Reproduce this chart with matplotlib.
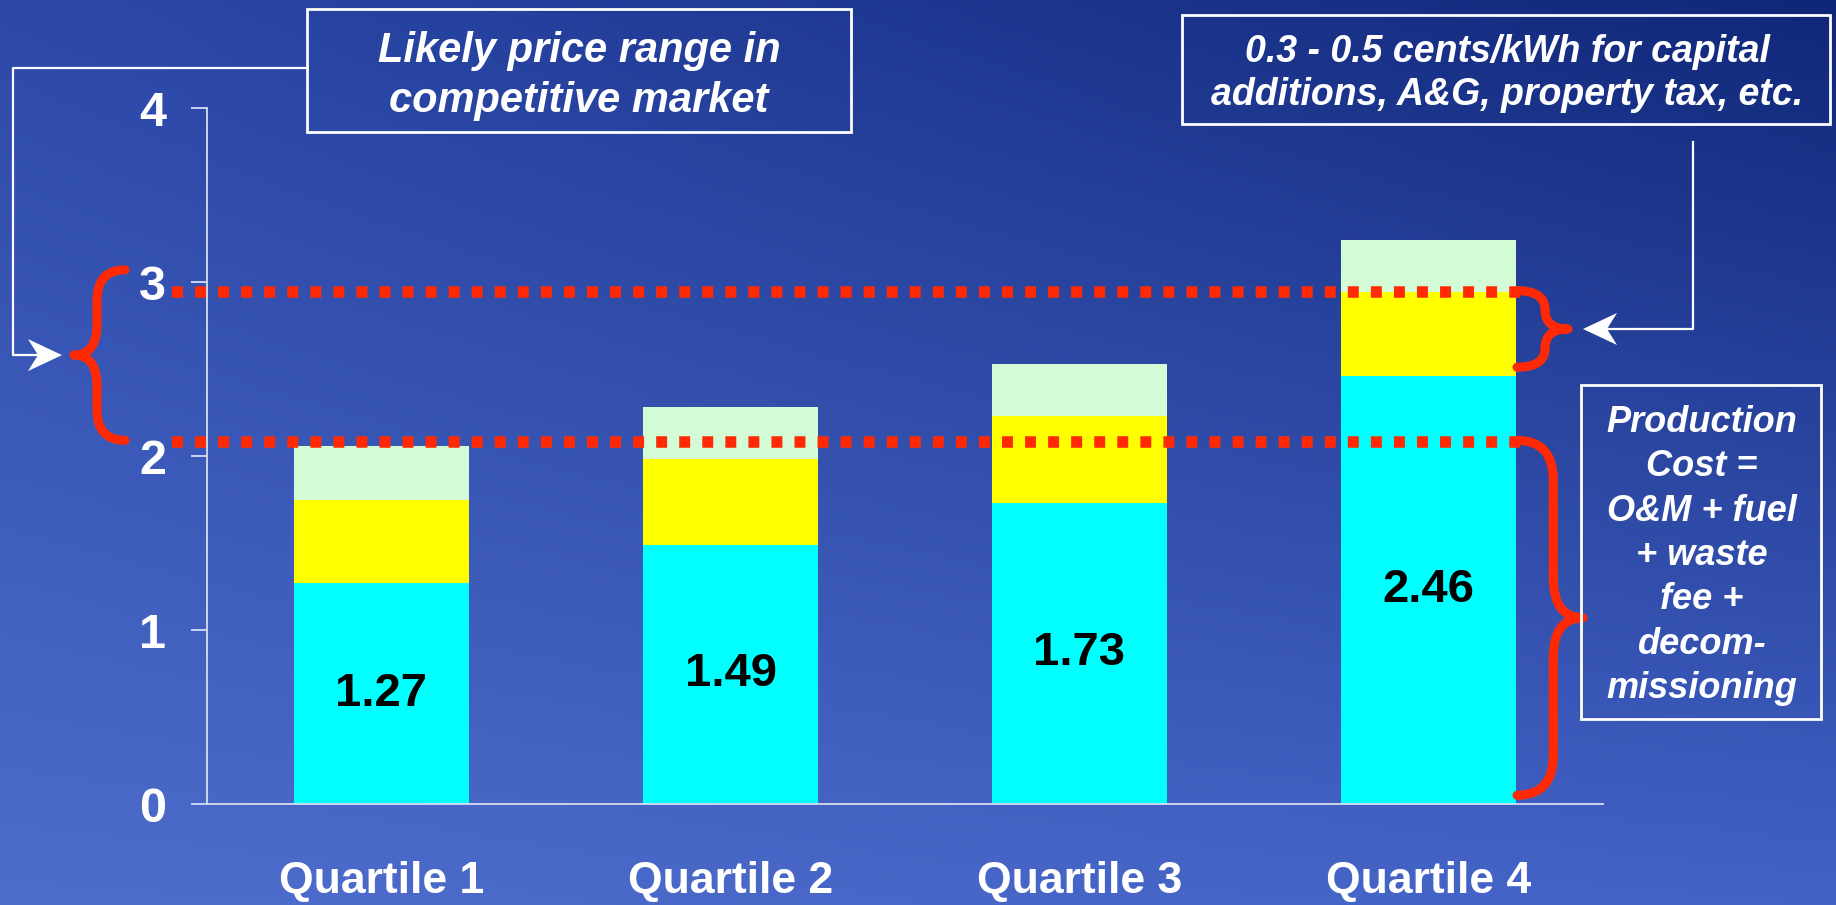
import numpy as np
import matplotlib
matplotlib.use("Agg")
import matplotlib.pyplot as plt
from matplotlib import font_manager
from matplotlib.patches import Rectangle, Polygon, PathPatch
from matplotlib.path import Path

W, H = 1836, 905

# --- data ---
quartiles = ["Quartile 1", "Quartile 2", "Quartile 3", "Quartile 4"]
production = [1.27, 1.49, 1.73, 2.46]   # cents/kWh, cyan
capital = [0.48, 0.49, 0.50, 0.48]      # yellow
other = [0.31, 0.30, 0.30, 0.30]        # pale green
price_range = [2.08, 2.94]              # red dotted lines
y_ticks = [0, 1, 2, 3, 4]

# brace spans (value units)
market_brace = [2.09, 3.07]
capital_brace = [2.51, 2.95]
production_brace = [0.05, 2.09]

CYAN, YELLOW, MINT, RED = "#00FFFF", "#FFFF00", "#D3FBD5", "#FF2A04"
AXIS_C = "#D6DDF2"


def have(name):
    try:
        font_manager.findfont(font_manager.FontProperties(family=name),
                              fallback_to_default=False)
        return True
    except ValueError:
        return False


SANS = "Liberation Sans" if have("Liberation Sans") else "DejaVu Sans"
if have("Liberation Sans Narrow"):
    NARROW, tick_fs, bar_fs = "Liberation Sans Narrow", 37, 38
else:
    NARROW, tick_fs, bar_fs = SANS, 35, 34

fig = plt.figure(figsize=(W / 100, H / 100), dpi=100)

# --- background gradient ---
bg = fig.add_axes([0, 0, 1, 1], zorder=0)
gy, gx = np.mgrid[0:1:200j, 0:1:400j]
tl = np.array([0x2C, 0x49, 0xAA]) / 255
tr = np.array([0x10, 0x27, 0x78]) / 255
bl = np.array([0x4E, 0x6D, 0xCB]) / 255
br = np.array([0x42, 0x62, 0xC6]) / 255
img = (tl * ((1 - gx) * (1 - gy))[..., None] + tr * (gx * (1 - gy))[..., None]
       + bl * ((1 - gx) * gy)[..., None] + br * (gx * gy)[..., None])
bg.imshow(img, extent=[0, 1, 0, 1], aspect="auto", origin="upper")
bg.axis("off")

# --- main chart ---
ax = fig.add_axes([207 / W, 1 - 804 / H, (1603 - 207) / W, (804 - 108) / H], zorder=2)
ax.patch.set_alpha(0)
x = np.arange(len(quartiles))
b1 = np.array(production)
b2 = b1 + np.array(capital)
ax.bar(x, production, width=0.5, color=CYAN, zorder=2)
ax.bar(x, capital, bottom=b1, width=0.5, color=YELLOW, zorder=2)
ax.bar(x, other, bottom=b2, width=0.5, color=MINT, zorder=2)

for xi, v in zip(x, production):
    ax.text(xi, v / 2, f"{v:.2f}", ha="center", va="center", color="black",
            fontsize=bar_fs, fontweight="bold", family=NARROW, zorder=3)

for v in price_range:
    ax.plot([-0.6, 3.27], [v, v], color=RED, linewidth=8.3,
            linestyle=(0, (0.95, 1.05)), clip_on=False, zorder=4)

ax.set_xlim(-0.5, 3.5)
ax.set_ylim(0, 4)
for s in ["top", "right"]:
    ax.spines[s].set_visible(False)
for s in ["left", "bottom"]:
    ax.spines[s].set_color(AXIS_C)
    ax.spines[s].set_linewidth(1.3)
ax.set_yticks(y_ticks)
ax.set_yticklabels([str(t) for t in y_ticks], family=NARROW, fontweight="bold",
                   fontsize=tick_fs, color="white")
ax.tick_params(axis="y", direction="out", length=11.5, width=1.3, color=AXIS_C, pad=18)
ax.set_xticks(x)
ax.set_xticklabels(quartiles, family=SANS, fontweight="bold", fontsize=32, color="white")
ax.tick_params(axis="x", length=0, pad=41)

# --- annotation overlay in pixel coordinates ---
ov = fig.add_axes([0, 0, 1, 1], zorder=5)
ov.set_xlim(0, W)
ov.set_ylim(H, 0)
ov.axis("off")
ov.patch.set_alpha(0)


def py(v):
    return H - ax.transData.transform((0, v))[1]


def brace(x_end, x_tip, v0, v1, lw=6.5):
    y0, y1 = py(v1), py(v0)
    ym = (y0 + y1) / 2
    xs = x_end + (x_tip - x_end) * 0.55
    r = min(abs(xs - x_end) * 1.1, (y1 - y0) / 4)
    verts = [(x_end, y0), (xs, y0), (xs, y0 + r), (xs, ym - r), (xs, ym), (x_tip, ym),
             (xs, ym), (xs, ym + r), (xs, y1 - r), (xs, y1), (x_end, y1)]
    codes = [Path.MOVETO, Path.CURVE3, Path.CURVE3, Path.LINETO, Path.CURVE3, Path.CURVE3,
             Path.CURVE3, Path.CURVE3, Path.LINETO, Path.CURVE3, Path.CURVE3]
    ov.add_patch(PathPatch(Path(verts, codes), fill=False, edgecolor=RED, linewidth=lw,
                           capstyle="round", joinstyle="round"))
    return ym


def arrow_head(tip_x, y, direction):
    # stealth style white head, direction +1 points right, -1 points left
    L, h, notch = 34, 16, 24
    pts = [(tip_x, y), (tip_x - direction * L, y - h),
           (tip_x - direction * notch, y), (tip_x - direction * L, y + h)]
    ov.add_patch(Polygon(pts, closed=True, facecolor="white", edgecolor="none"))


def box(x0, y0, x1, y1):
    ov.add_patch(Rectangle((x0, y0), x1 - x0, y1 - y0, fill=False,
                           edgecolor="white", linewidth=2))


def lines(cx, base, pitch, texts, size):
    for i, t in enumerate(texts):
        ov.text(cx, base + i * pitch, t, ha="center", va="baseline", color="white",
                fontsize=size, fontweight="bold", fontstyle="italic", family=SANS)


# left: likely price range
ym = brace(125, 74, *market_brace)
ov.plot([307, 13, 13, 40], [68, 68, ym, ym], color="white", linewidth=1.6)
arrow_head(62, ym, +1)
box(307, 9, 851, 132)
lines(579, 62, 50, ["Likely price range in", "competitive market"], 30)

# right top: capital additions
ym = brace(1517, 1568, *capital_brace)
ov.plot([1693, 1693, 1605], [142, ym, ym], color="white", linewidth=1.6)
arrow_head(1583, ym, -1)
box(1182, 15, 1830, 124)
lines(1507, 62, 43, ["0.3 - 0.5 cents/kWh for capital",
                     "additions, A&G, property tax, etc."], 27)

# right bottom: production cost
brace(1517, 1583, *production_brace, lw=6.5)
box(1581, 385, 1821, 719)
lines(1702, 432, 44.3, ["Production", "Cost =", "O&M + fuel", "+ waste", "fee +",
                        "decom-", "missioning"], 26)

fig.savefig("out.png", dpi=100)
